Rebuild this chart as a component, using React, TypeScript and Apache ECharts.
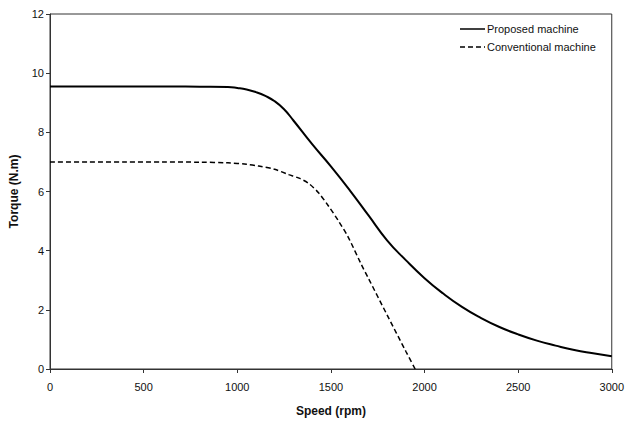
import React, { useEffect, useRef } from "react";
import * as echarts from "echarts";

const proposedSpeed = [0, 200, 400, 600, 800, 950, 1000, 1050, 1100, 1150, 1200, 1250, 1300, 1400, 1500, 1600, 1700, 1800, 1900, 2000, 2100, 2200, 2300, 2400, 2500, 2600, 2700, 2800, 2900, 3000];
const proposedTorque = [9.55, 9.55, 9.55, 9.55, 9.54, 9.53, 9.5, 9.45, 9.36, 9.23, 9.05, 8.78, 8.4, 7.6, 6.85, 6.05, 5.2, 4.35, 3.68, 3.07, 2.55, 2.1, 1.73, 1.42, 1.17, 0.96, 0.79, 0.64, 0.53, 0.43];

const conventionalSpeed = [0, 200, 400, 600, 800, 950, 1050, 1115, 1200, 1275, 1330, 1380, 1435, 1487, 1540, 1593, 1662, 1700, 1800, 1900, 1950];
const conventionalTorque = [7.0, 7.0, 7.0, 7.0, 6.99, 6.97, 6.92, 6.86, 6.75, 6.57, 6.45, 6.28, 5.95, 5.51, 5.01, 4.45, 3.54, 3.07, 1.83, 0.6, 0];

const seriesNames = ["Proposed machine", "Conventional machine"];

const xTicks = { min: 0, max: 3000, interval: 500 };
const yTicks = { min: 0, max: 12, interval: 2 };

const FONT = "'Liberation Sans', Arial, sans-serif";

export default function App() {
  const ref = useRef<HTMLDivElement>(null);
  useEffect(() => {
    if (!ref.current) return;
    const chart = echarts.init(ref.current, undefined, { renderer: "svg" });
    chart.setOption({
      animation: false,
      backgroundColor: "#fff",
      textStyle: { fontFamily: FONT },
      grid: { left: 50, right: 12, top: 14, bottom: 49, show: true, borderColor: "#333", borderWidth: 1 },
      graphic: [
        { type: "line", shape: { x1: 460, y1: 29, x2: 485, y2: 29 }, style: { stroke: "#000", lineWidth: 1.5 } },
        { type: "text", x: 487, y: 29, style: { text: seriesNames[0], fontSize: 11, fill: "#111", fontFamily: FONT, verticalAlign: "middle" } },
        { type: "line", shape: { x1: 460, y1: 47, x2: 485, y2: 47 }, style: { stroke: "#000", lineWidth: 1.3, lineDash: [5, 3] } },
        { type: "text", x: 487, y: 47, style: { text: seriesNames[1], fontSize: 11, fill: "#111", fontFamily: FONT, verticalAlign: "middle" } },
      ],
      xAxis: {
        type: "value",
        min: xTicks.min,
        max: xTicks.max,
        interval: xTicks.interval,
        name: "Speed (rpm)",
        nameLocation: "middle",
        nameGap: 36,
        nameTextStyle: { fontWeight: "bold", fontSize: 12, color: "#111", fontFamily: FONT },
        axisLine: { lineStyle: { color: "#333" } },
        axisTick: { show: true, inside: false, length: 4, lineStyle: { color: "#333" } },
        axisLabel: { fontSize: 11, color: "#111", margin: 12, fontFamily: FONT, formatter: (v: number) => String(v) },
        splitLine: { show: false },
      },
      yAxis: {
        type: "value",
        min: yTicks.min,
        max: yTicks.max,
        interval: yTicks.interval,
        name: "Torque (N.m)",
        nameLocation: "middle",
        nameGap: 30,
        nameTextStyle: { fontWeight: "bold", fontSize: 12, color: "#111", fontFamily: FONT },
        axisLine: { show: true, lineStyle: { color: "#333" } },
        axisTick: { show: true, inside: false, length: 4, lineStyle: { color: "#333" } },
        axisLabel: { fontSize: 11, color: "#111", margin: 6, fontFamily: FONT },
        splitLine: { show: false },
      },
      series: [
        {
          name: seriesNames[0],
          type: "line",
          data: proposedSpeed.map((s, i) => [s, proposedTorque[i]]),
          showSymbol: false,
          symbol: "none",
          smooth: 0.5,
          lineStyle: { color: "#000", width: 2, type: "solid" },
          itemStyle: { color: "#000" },
        },
        {
          name: seriesNames[1],
          type: "line",
          data: conventionalSpeed.map((s, i) => [s, conventionalTorque[i]]),
          showSymbol: false,
          symbol: "none",
          smooth: 0.3,
          lineStyle: { color: "#000", width: 1.5, type: [5, 3] },
          itemStyle: { color: "#000" },
        },
      ],
    });
    return () => chart.dispose();
  }, []);
  return <div ref={ref} style={{ width: 627, height: 422, position: "absolute", left: 0, top: 0 }} />;
}
